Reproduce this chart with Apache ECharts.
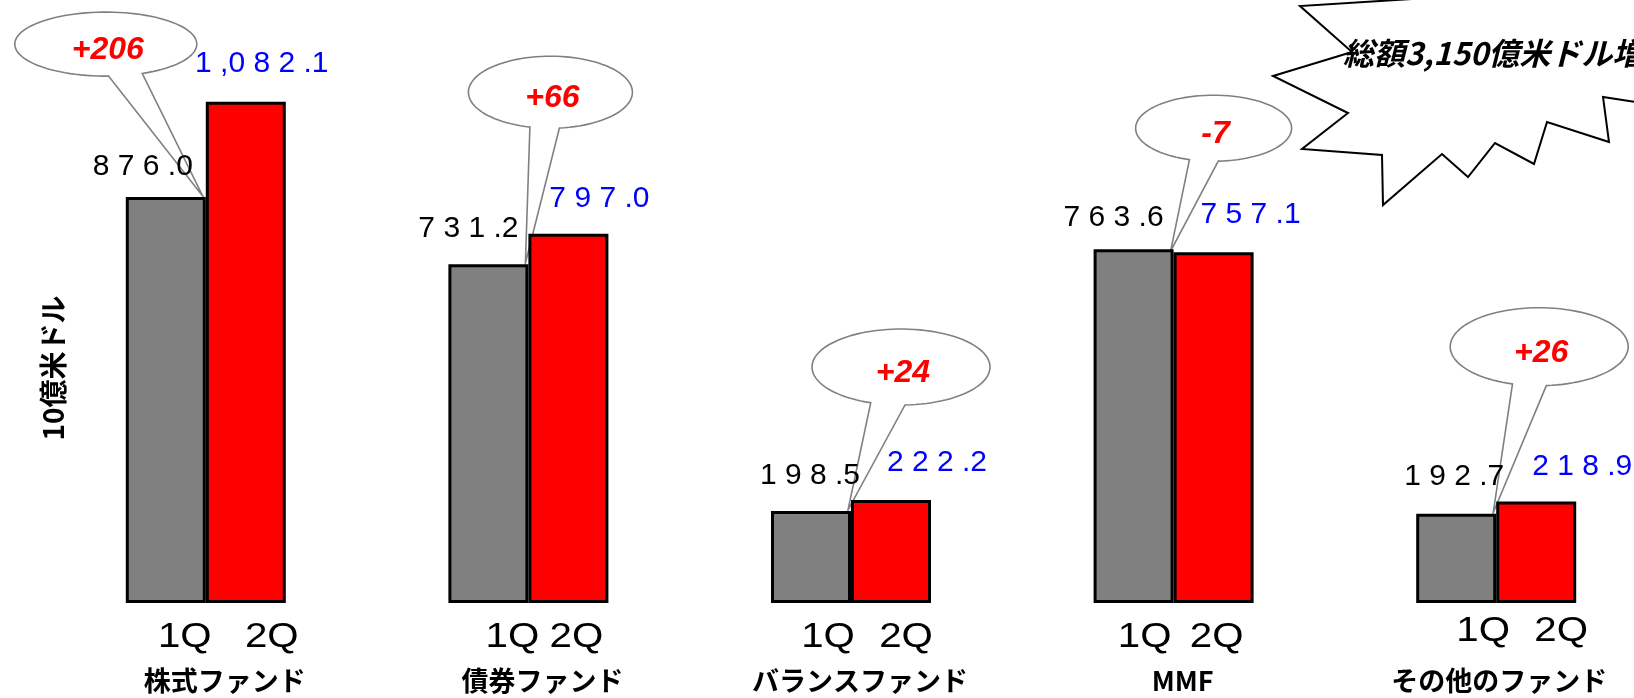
<!DOCTYPE html>
<html>
<head>
<meta charset="utf-8">
<script src="https://cdn.jsdelivr.net/npm/echarts@6/dist/echarts.min.js"></script>
<style>
  html, body { margin: 0; padding: 0; background: #ffffff; }
  #chart { width: 1634px; height: 698px; }
</style>
</head>
<body>
<div id="chart"></div>
<script>
// Fund categories and quarterly net assets (10億米ドル)
const categories = ['株式ファンド', '債券ファンド', 'バランスファンド', 'MMF', 'その他のファンド'];
const quarters = ['1Q', '2Q'];
const q1Values = [876.0, 731.2, 198.5, 763.6, 192.7];
const q2Values = [1082.1, 797.0, 222.2, 757.1, 218.9];
const unitLabel = '10億米ドル';
const totalNote = '総額3,150億米ドル増加';

// Fonts
const LATIN = "'Liberation Sans', Arial, sans-serif";
const CJK = "'Noto Sans CJK JP', 'Noto Sans CJK SC', sans-serif";

// Layout nudges in pixels (per group)
const q1LabelShift = [[-23, 5], [-20, 0], [-1, 0], [-20, 4], [-2, -2]];
const q2LabelShift = [[16, -3], [31, 0], [46, -2], [37, -2], [46, 0]];
const nameShift = [19, 14, 9, 9, 3];
const quarterShift = [[-21, 66], [-16, 48], [-23, 55], [-29, 43], [-13, 65]];
const quarterRise = [0, 0, 0, 0, 6];
// Callout balloons: centre offset from the tip, radii, tail base (fraction of rx)
const balloonShape = [
  { dx: -97, dy: -152, rx: 91, ry: 32, a: 0.03, b: 0.40 },
  { dx: 25, dy: -171, rx: 82, ry: 36, a: -0.25, b: 0.11 },
  { dx: 53, dy: -143, rx: 89, ry: 38, a: -0.34, b: 0.045 },
  { dx: 43, dy: -123, rx: 78, ry: 33, a: -0.31, b: 0.06 },
  { dx: 46, dy: -166, rx: 89, ry: 39, a: -0.30, b: 0.08 }
];
// Starburst outline behind the total note
const burstPoints = [
  [1460, -4], [1300, 6], [1352, 52], [1273, 76], [1348, 113], [1302, 149],
  [1382, 155], [1383, 205], [1442, 154], [1468, 177], [1495, 143], [1534, 164],
  [1547, 122], [1609, 142], [1603, 97], [1700, 112], [1700, -20], [1460, -20]
];

// "876.0" -> "8 7 6 .0"
function spaced(v) {
  const s = v.toLocaleString('en-US', { minimumFractionDigits: 1, maximumFractionDigits: 1 });
  let out = '';
  for (let k = 0; k < s.length; k++) {
    out += s[k];
    if (k < s.length - 1 && s[k] !== ',' && s[k] !== '.') out += ' ';
  }
  return out;
}

function changeText(a, b) {
  const d = b - a;
  const r = Math.sign(d) * Math.round(Math.abs(d));
  return (r > 0 ? '+' : '') + r;
}

// Ellipse outline from the right tail root, over the top, to the left tail root, then the tip
function balloonPoints(cx, cy, s, tx, ty) {
  const tR = Math.acos(s.b);
  const tL = Math.acos(s.a) - 2 * Math.PI;
  const n = 96;
  const pts = [];
  for (let k = 0; k <= n; k++) {
    const t = tR + (tL - tR) * k / n;
    pts.push([cx + s.rx * Math.cos(t), cy + s.ry * Math.sin(t)]);
  }
  pts.push([tx, ty]);
  return pts;
}

const chart = echarts.init(document.getElementById('chart'), null, { renderer: 'canvas' });

const valueLabel = {
  show: true,
  position: 'top',
  distance: 20,
  fontFamily: LATIN,
  fontSize: 30,
  lineHeight: 30,
  formatter: p => spaced(p.value)
};

chart.setOption({
  animation: false,
  backgroundColor: '#ffffff',
  grid: { left: 44.5, width: 1613, top: 47, bottom: 95, containLabel: false, outerBoundsMode: 'none' },
  xAxis: {
    type: 'category',
    data: categories.map((c, i) => ({ value: c, textStyle: { padding: [0, 0, 0, 2 * nameShift[i]] } })),
    axisLine: { show: false },
    axisTick: { show: false },
    axisLabel: {
      interval: 0,
      margin: 64,
      fontFamily: CJK,
      fontWeight: 'bold',
      fontSize: 27,
      color: '#000000'
    }
  },
  yAxis: {
    type: 'value',
    min: 0,
    max: 1200,
    show: false,
    splitLine: { show: false }
  },
  series: [
    {
      name: quarters[0],
      type: 'bar',
      barWidth: 80,
      barGap: '0%',
      itemStyle: { color: '#808080', borderColor: '#000000', borderWidth: 3 },
      label: Object.assign({}, valueLabel, { color: '#000000' }),
      data: q1Values.map((v, i) => ({ value: v, label: { offset: q1LabelShift[i] } }))
    },
    {
      name: quarters[1],
      type: 'bar',
      barWidth: 80,
      barGap: '0%',
      itemStyle: { color: '#ff0000', borderColor: '#000000', borderWidth: 3 },
      label: Object.assign({}, valueLabel, { color: '#0000ff' }),
      data: q2Values.map((v, i) => ({ value: v, label: { offset: q2LabelShift[i] } }))
    }
  ]
});

// Annotations placed from the chart's own coordinate system
const graphics = [];

graphics.push({
  type: 'polygon',
  z: 10,
  shape: { points: burstPoints },
  style: { fill: '#ffffff', stroke: '#000000', lineWidth: 2 }
});
graphics.push({
  type: 'text',
  z: 11,
  x: 1343,
  y: 53,
  style: {
    text: totalNote,
    font: 'italic bold 31px ' + CJK,
    fill: '#000000',
    textAlign: 'left',
    textVerticalAlign: 'middle'
  }
});

graphics.push({
  type: 'text',
  z: 11,
  x: 53,
  y: 368,
  rotation: Math.PI / 2,
  style: {
    text: unitLabel,
    font: 'bold 28px ' + CJK,
    fill: '#000000',
    textAlign: 'center',
    textVerticalAlign: 'middle'
  }
});

categories.forEach((c, i) => {
  const base = chart.convertToPixel({ gridIndex: 0 }, [i, 0]);
  quarters.forEach((q, k) => {
    graphics.push({
      type: 'text',
      z: 11,
      x: base[0] + quarterShift[i][k],
      y: base[1] + 34 - quarterRise[i],
      scaleX: 1.15,
      style: {
        text: q,
        font: '35px ' + LATIN,
        fill: '#000000',
        textAlign: 'center',
        textVerticalAlign: 'middle'
      }
    });
  });

  // Balloons sit under the bar layer so value labels stay readable through the tails
  const tipPx = chart.convertToPixel({ gridIndex: 0 }, [i, Math.min(q1Values[i], q2Values[i])]);
  const tx = tipPx[0] - 3;
  const ty = tipPx[1] - 1;
  const s = balloonShape[i];
  const cx = tx + s.dx;
  const cy = ty + s.dy;
  graphics.push({
    type: 'polygon',
    z: 1,
    shape: { points: balloonPoints(cx, cy, s, tx, ty) },
    style: { fill: '#ffffff', stroke: '#808080', lineWidth: 1.6 }
  });
  graphics.push({
    type: 'text',
    z: 1,
    x: cx + 2,
    y: cy + 6,
    style: {
      text: changeText(q1Values[i], q2Values[i]),
      font: 'italic bold 32px ' + LATIN,
      fill: '#ff0000',
      textAlign: 'center',
      textVerticalAlign: 'middle'
    }
  });
});

chart.setOption({ graphic: graphics });
</script>
</body>
</html>
